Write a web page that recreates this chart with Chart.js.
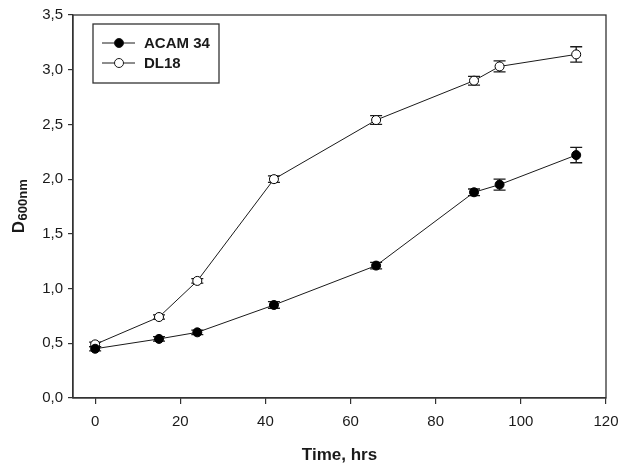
<!DOCTYPE html>
<html>
<head>
<meta charset="utf-8">
<script src="https://cdn.jsdelivr.net/npm/chart.js@4/dist/chart.umd.min.js"></script>
<style>
html,body{margin:0;padding:0;background:#fff;}
#wrap{width:620px;height:466px;}
</style>
</head>
<body>
<div id="wrap"><canvas id="c" width="620" height="466"></canvas></div>
<script>
const timeHrs = [0, 15, 24, 42, 66, 89, 95, 113];
const acam34 = [0.45, 0.54, 0.60, 0.85, 1.21, 1.88, 1.95, 2.22];
const acam34Err = [0.02, 0.02, 0.02, 0.03, 0.03, 0.03, 0.05, 0.07];
const dl18 = [0.49, 0.74, 1.07, 2.00, 2.54, 2.90, 3.03, 3.14];
const dl18Err = [0.02, 0.02, 0.02, 0.03, 0.04, 0.04, 0.05, 0.07];
const seriesLabels = ['ACAM 34', 'DL18'];
const xTickValues = [0, 20, 40, 60, 80, 100, 120];
const yTickValues = [0, 0.5, 1, 1.5, 2, 2.5, 3, 3.5];
const xTitle = 'Time, hrs';
const yTitleMain = 'D';
const yTitleSub = '600nm';

const FONT = "'Liberation Sans', Arial, sans-serif";
const INK = '#1a1a1a';

const toPts = (xs, ys) => xs.map((x, i) => ({x: x, y: ys[i]}));

const errorBars = {
  id: 'errorBars',
  beforeDatasetsDraw(chart) {
    const ctx = chart.ctx;
    const xs = chart.scales.x, ys = chart.scales.y;
    const errs = [acam34Err, dl18Err];
    ctx.save();
    ctx.strokeStyle = INK;
    ctx.lineWidth = 1.3;
    chart.data.datasets.forEach((ds, di) => {
      ds.data.forEach((p, i) => {
        const e = errs[di][i];
        const px = xs.getPixelForValue(p.x);
        const top = ys.getPixelForValue(p.y + e);
        const bot = ys.getPixelForValue(p.y - e);
        ctx.beginPath();
        ctx.moveTo(px, top); ctx.lineTo(px, bot);
        ctx.moveTo(px - 6, top); ctx.lineTo(px + 6, top);
        ctx.moveTo(px - 6, bot); ctx.lineTo(px + 6, bot);
        ctx.stroke();
      });
    });
    ctx.restore();
  }
};

const frameAndTitles = {
  id: 'frameAndTitles',
  afterDraw(chart) {
    const ctx = chart.ctx;
    const a = chart.chartArea;
    ctx.save();
    // frame
    ctx.strokeStyle = '#333';
    ctx.lineWidth = 1.3;
    ctx.strokeRect(a.left, a.top, a.right - a.left, a.bottom - a.top);
    // x title
    ctx.fillStyle = INK;
    ctx.font = "bold 17px " + FONT;
    ctx.textAlign = 'center';
    ctx.textBaseline = 'alphabetic';
    ctx.fillText(xTitle, (a.left + a.right) / 2, 460);
    // y title with subscript
    ctx.translate(24, (a.top + a.bottom) / 2);
    ctx.rotate(-Math.PI / 2);
    ctx.font = "bold 17px " + FONT;
    const wMain = ctx.measureText(yTitleMain).width;
    ctx.font = "bold 13px " + FONT;
    const wSub = ctx.measureText(yTitleSub).width;
    const start = -(wMain + wSub) / 2;
    ctx.textAlign = 'left';
    ctx.textBaseline = 'alphabetic';
    ctx.font = "bold 17px " + FONT;
    ctx.fillText(yTitleMain, start, 0);
    ctx.font = "bold 13px " + FONT;
    ctx.fillText(yTitleSub, start + wMain + 0.5, 3);
    ctx.restore();

    // legend box
    ctx.save();
    const bx = 93, by = 24, bw = 126, bh = 59;
    ctx.strokeStyle = '#333';
    ctx.lineWidth = 1.3;
    ctx.strokeRect(bx, by, bw, bh);
    chart.data.datasets.forEach((ds, i) => {
      const yy = 43 + i * 20;
      ctx.strokeStyle = INK;
      ctx.lineWidth = 1;
      ctx.beginPath();
      ctx.moveTo(102, yy); ctx.lineTo(135, yy);
      ctx.stroke();
      ctx.beginPath();
      ctx.arc(119, yy, 4.5, 0, Math.PI * 2);
      ctx.fillStyle = ds.pointBackgroundColor;
      ctx.fill();
      ctx.stroke();
      ctx.fillStyle = INK;
      ctx.font = "bold 15px " + FONT;
      ctx.textAlign = 'left';
      ctx.textBaseline = 'middle';
      ctx.fillText(ds.label, 144, yy + 1);
    });
    ctx.restore();
  }
};

new Chart(document.getElementById('c'), {
  type: 'line',
  data: {
    datasets: [
      {
        label: seriesLabels[0],
        data: toPts(timeHrs, acam34),
        borderColor: INK,
        borderWidth: 1,
        pointRadius: 4.5,
        pointBackgroundColor: '#000',
        pointBorderColor: '#000',
        pointBorderWidth: 1,
        tension: 0
      },
      {
        label: seriesLabels[1],
        data: toPts(timeHrs, dl18),
        borderColor: INK,
        borderWidth: 1,
        pointRadius: 4.5,
        pointBackgroundColor: '#fff',
        pointBorderColor: '#000',
        pointBorderWidth: 1,
        tension: 0
      }
    ]
  },
  options: {
    responsive: false,
    animation: false,
    events: [],
    layout: {padding: {top: 15, right: 14, left: 0, bottom: 0}},
    plugins: {legend: {display: false}, tooltip: {enabled: false}},
    scales: {
      x: {
        type: 'linear',
        min: -5.2,
        max: 120,
        afterBuildTicks: (s) => { s.ticks = xTickValues.map(v => ({value: v})); },
        afterFit: (s) => { s.height = 68; s.paddingLeft = 0; s.paddingRight = 0; },
        grid: {drawOnChartArea: false, drawTicks: true, tickLength: 6, color: '#333', lineWidth: 1.2},
        border: {display: true, color: '#333', width: 1.3},
        ticks: {color: INK, font: {family: FONT, size: 15}, padding: 9, maxRotation: 0}
      },
      y: {
        type: 'linear',
        min: 0,
        max: 3.5,
        afterBuildTicks: (s) => { s.ticks = yTickValues.map(v => ({value: v})); },
        afterFit: (s) => { s.width = 73; s.paddingTop = 0; s.paddingBottom = 0; },
        grid: {drawOnChartArea: false, drawTicks: true, tickLength: 5, color: '#333', lineWidth: 1.2},
        border: {display: true, color: '#333', width: 1.3},
        ticks: {
          color: INK, font: {family: FONT, size: 15}, padding: 5,
          callback: (v) => v.toFixed(1).replace('.', ',')
        }
      }
    }
  },
  plugins: [errorBars, frameAndTitles]
});
</script>
</body>
</html>
